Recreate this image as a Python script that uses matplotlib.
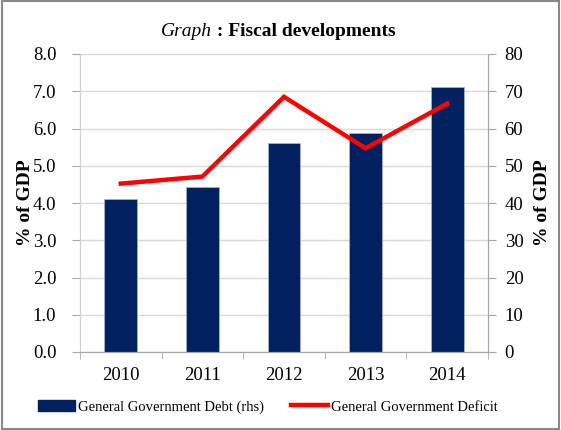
import numpy as np
import matplotlib.pyplot as plt
from matplotlib.patches import Rectangle

plt.rcParams['font.family'] = ['Liberation Serif', 'DejaVu Serif']

years = ['2010', '2011', '2012', '2013', '2014']
debt = [41.1, 44.4, 56.0, 58.9, 71.1]        # % of GDP, right axis
deficit = [4.52, 4.71, 6.85, 5.47, 6.67]     # % of GDP, left axis

navy = '#002060'
red = '#ff0000'
axis_grey = '#a6a6a6'

fig = plt.figure(figsize=(5.61, 4.30), dpi=100)
ax = fig.add_axes([80 / 561, 1 - 352 / 430, 408 / 561, 298 / 430])
ax2 = ax.twinx()

x = np.arange(len(years))

# bars on the right axis, line on the left, line drawn on top
ax2.bar(x, debt, width=0.40, color=navy, edgecolor='#b0b8cc', linewidth=0.5, zorder=2)
ax.set_zorder(ax2.get_zorder() + 1)
ax.patch.set_visible(False)
ax.plot(x, deficit, color=red, lw=3.2, solid_joinstyle='miter', zorder=3)

ax.set_xlim(-0.5, 4.5)
ax.set_ylim(0, 8)
ax2.set_ylim(0, 80)
ax.set_yticks(np.arange(0, 8.1, 1))
ax.set_yticklabels([f'{v:.1f}' for v in np.arange(0, 8.1, 1)])
ax2.set_yticks(np.arange(0, 81, 10))

ax2.yaxis.grid(True, color='#d9d9d9', lw=1)
ax2.set_axisbelow(True)

ax.set_xticks(x)
ax.set_xticklabels(years)
ax.set_xticks(np.arange(-0.5, 5, 1), minor=True)
ax.tick_params(axis='x', which='major', length=0, pad=11, labelsize=13.5)
ax.tick_params(axis='x', which='minor', length=5, color=axis_grey)
ax.tick_params(axis='y', length=6, color=axis_grey, labelsize=13.5, pad=11)
ax2.tick_params(axis='y', length=6, color=axis_grey, labelsize=13.5, pad=6)

for a in (ax, ax2):
    for s in a.spines.values():
        s.set_visible(False)
    a.spines['left'].set_visible(True)
    a.spines['right'].set_visible(True)
    a.spines['bottom'].set_visible(True)
    a.spines['left'].set_color('#d0d0d0')
    a.spines['right'].set_color(axis_grey)
    a.spines['bottom'].set_color(axis_grey)

ax.set_ylabel('% of GDP', fontsize=14, fontweight='bold', va='center')
ax2.set_ylabel('% of GDP', fontsize=14, fontweight='bold', va='center')
ax.yaxis.set_label_coords((25 - 80) / 408, 0.5)
ax2.yaxis.set_label_coords((543 - 80) / 408, 0.5)

# title: italic "Graph" followed by bold text
ty = 1 - 31 / 430
fig.text(212 / 561, ty, 'Graph', ha='right', va='center', fontsize=14, fontstyle='italic')
fig.text(212 / 561, ty, ' : Fiscal developments', ha='left', va='center',
         fontsize=14, fontweight='bold')

# legend
h1 = Rectangle((0, 0), 1, 1, color=navy)
h2, = ax.plot([], [], color=red, lw=3.2)
fig.legend([h1, h2], ['General Government Debt (rhs)', 'General Government Deficit'],
           loc='center', bbox_to_anchor=(268 / 561, 1 - 407 / 430), ncol=2, frameon=False,
           fontsize=10.5, handlelength=2.5, handletextpad=0.2, columnspacing=1.9)

# outer frame
fig.patches.append(Rectangle((0.003, 0.003), 0.994, 0.994, transform=fig.transFigure,
                             fill=False, edgecolor='#888888', lw=1.5))

fig.savefig('out.png', dpi=100)
